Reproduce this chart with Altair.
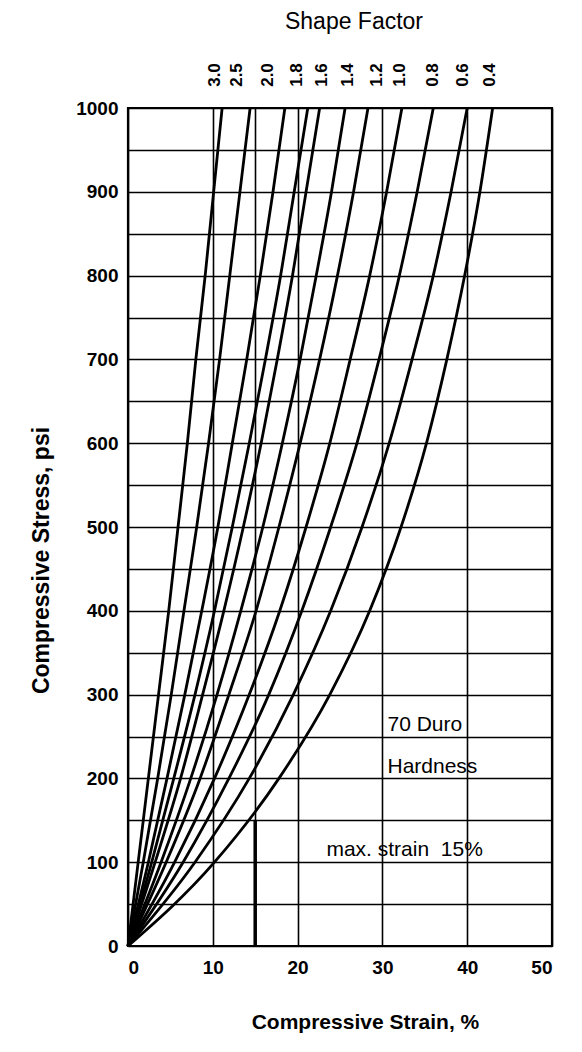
import altair as alt
import pandas as pd

# ---- data ----
shape_factors = ["3.0", "2.5", "2.0", "1.8", "1.6", "1.4", "1.2", "1.0", "0.8", "0.6", "0.4"]
stress_psi = [0, 100, 200, 300, 400, 500, 600, 700, 800, 900, 1000]
strain_3_0 = [0, 1.2, 2.4, 3.6, 4.8, 5.9, 7.0, 8.0, 9.1, 10.1, 11.1]
strain_2_5 = [0, 1.8, 3.5, 5.1, 6.6, 8.1, 9.5, 10.8, 12.0, 13.2, 14.4]
strain_2_0 = [0, 2.4, 4.6, 6.7, 8.7, 10.6, 12.3, 14.0, 15.6, 17.1, 18.5]
strain_1_8 = [0, 2.8, 5.4, 7.9, 10.2, 12.3, 14.3, 16.2, 18.0, 19.6, 21.2]
strain_1_6 = [0, 3.2, 6.2, 8.8, 11.3, 13.6, 15.7, 17.6, 19.4, 21.0, 22.6]
strain_1_4 = [0, 3.9, 7.4, 10.5, 13.3, 15.9, 18.2, 20.3, 22.2, 24.0, 25.6]
strain_1_2 = [0, 4.5, 8.5, 11.9, 15.1, 17.8, 20.3, 22.6, 24.7, 26.6, 28.3]
strain_1_0 = [0, 5.5, 10.2, 14.3, 17.9, 21.0, 23.8, 26.2, 28.5, 30.5, 32.3]
strain_0_8 = [0, 6.5, 11.9, 16.6, 20.5, 23.9, 27.0, 29.6, 32.0, 34.1, 36.0]
strain_0_6 = [0, 7.9, 14.3, 19.5, 23.9, 27.6, 30.8, 33.5, 36.0, 38.1, 40.0]
strain_0_4 = [0, 10.2, 17.8, 23.8, 28.5, 32.2, 35.2, 37.6, 39.7, 41.5, 43.0]

# where the shape-factor labels sit along the top (strain, %)
label_strain = [10.3, 12.9, 16.5, 19.9, 22.9, 25.9, 29.4, 32.1, 36.0, 39.5, 42.7]

x_grid = [0, 10, 15, 20, 30, 40, 50]
y_grid = list(range(0, 1001, 50))

max_strain = [15]
max_strain_top = [150]

annot_text = ["70 Duro", "Hardness", "max. strain\u00a0 15%"]
annot_strain = [30.6, 30.6, 23.4]
annot_stress = [264, 214, 115]

# ---- tables ----
all_strains = [strain_3_0, strain_2_5, strain_2_0, strain_1_8, strain_1_6, strain_1_4,
               strain_1_2, strain_1_0, strain_0_8, strain_0_6, strain_0_4]
rows = []
for sf, strains in zip(shape_factors, all_strains):
    for s, p in zip(strains, stress_psi):
        rows.append({"sf": sf, "strain": s, "stress": p})
curves_df = pd.DataFrame(rows)
labels_df = pd.DataFrame({"sf": shape_factors, "strain": label_strain})
annot_df = pd.DataFrame({"text": annot_text, "strain": annot_strain, "stress": annot_stress})
rule_df = pd.DataFrame({"strain": max_strain, "stress": [0], "stress2": max_strain_top})

FONT = "Liberation Sans"

xscale = alt.Scale(domain=[0, 50], nice=False, zero=False)
yscale = alt.Scale(domain=[0, 1000], nice=False)

x_axis = alt.Axis(
    values=x_grid, labelExpr="datum.value % 10 == 0 ? datum.label : ''",
    title="Compressive Strain, %", grid=True, gridColor="black", gridWidth=1.6,
    gridOpacity=1, ticks=False, domain=False, labelFontSize=19, labelFontWeight="bold",
    labelColor="black", labelPadding=12, labelFont=FONT, titleFont=FONT,
    titleFontSize=21, titleFontWeight="bold", titleColor="black", titlePadding=34,
    titleX=237, titleAlign="center", format="d",
)
y_axis = alt.Axis(
    values=y_grid, labelExpr="datum.value % 100 == 0 ? datum.label : ''",
    title="Compressive Stress, psi", grid=True, gridColor="black", gridWidth=1.6,
    gridOpacity=1, ticks=False, domain=False, labelFontSize=19, labelFontWeight="bold",
    labelColor="black", labelPadding=10, labelFont=FONT, titleFont=FONT,
    titleFontSize=23, titleFontWeight="bold", titleColor="black", titlePadding=22,
    titleY=452, format="d",
)

curves = alt.Chart(curves_df).mark_line(
    color="black", strokeWidth=2.8, interpolate="monotone"
).encode(
    x=alt.X("strain:Q", scale=xscale, axis=x_axis),
    y=alt.Y("stress:Q", scale=yscale, axis=y_axis),
    detail="sf:N",
    order="stress:Q",
)

rule = alt.Chart(rule_df).mark_rule(color="black", strokeWidth=3.5).encode(
    x=alt.X("strain:Q", scale=xscale),
    y=alt.Y("stress:Q", scale=yscale),
    y2="stress2:Q",
)

sf_labels = alt.Chart(labels_df).mark_text(
    angle=270, align="center", baseline="middle", fontSize=17, font=FONT,
    fontWeight="bold", color="black",
).encode(
    x=alt.X("strain:Q", scale=xscale),
    y=alt.value(-33),
    text="sf:N",
)

annots = alt.Chart(annot_df).mark_text(
    align="left", baseline="middle", fontSize=21, font=FONT, color="black",
).encode(
    x=alt.X("strain:Q", scale=xscale),
    y=alt.Y("stress:Q", scale=yscale),
    text="text:N",
)

top_title = alt.Chart(pd.DataFrame({"t": ["Shape Factor"]})).mark_text(
    align="center", baseline="middle", fontSize=23, font=FONT, color="black",
).encode(
    x=alt.value(226),
    y=alt.value(-86),
    text="t:N",
)

chart = alt.layer(curves, rule, sf_labels, annots, top_title).properties(
    width=424, height=838,
    padding={"left": 120, "top": 100, "right": 22, "bottom": 98},
    autosize=alt.AutoSizeParams(type="none"),
    background="white",
).configure_view(stroke="black", strokeWidth=2.2)

chart.save("out.html", embed_options={"renderer": "svg", "actions": False})
